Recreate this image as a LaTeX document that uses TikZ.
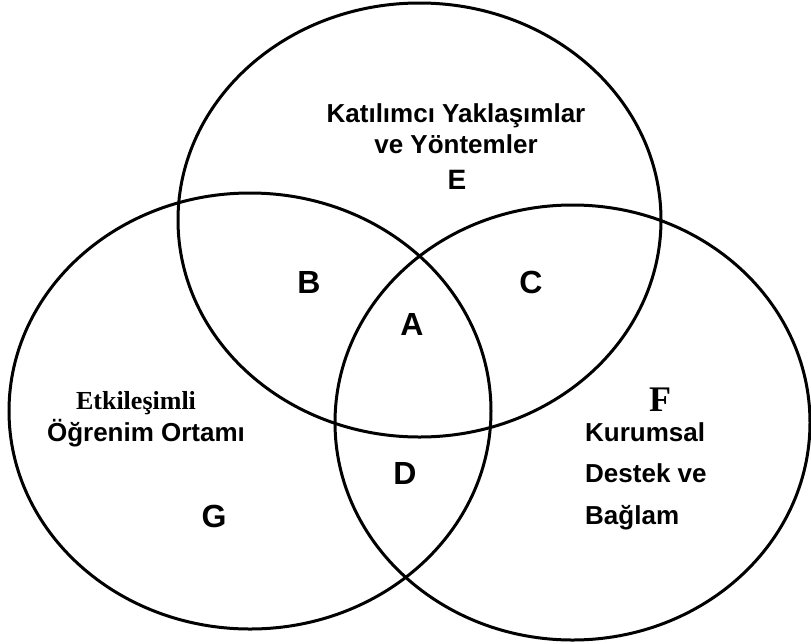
\documentclass[tikz,border=0pt]{standalone}
\usepackage{fontspec}
\setmainfont{Liberation Sans}
\newfontfamily\serifbold{Liberation Serif}
\usetikzlibrary{positioning}

\begin{document}
\begin{tikzpicture}[
  x=1pt, y=-1pt,
  every node/.style={inner sep=0pt, anchor=base},
  ring/.style={line width=3pt},
  tag/.style={font=\fontsize{32}{32}\selectfont\bfseries},
  words/.style={font=\fontsize{26}{26}\selectfont\bfseries},
  serifwords/.style={font=\serifbold\fontsize{26}{26}\selectfont\bfseries}
]
\useasboundingbox (0,0) rectangle (811,643);

% three sets
\draw[ring] (419.5,220) ellipse [x radius=241.5, y radius=217];
\draw[ring] (250,411) ellipse [x radius=241, y radius=218];
\draw[ring] (572.5,422.5) ellipse [x radius=237.5, y radius=217.5];

% top set
\node[words] (katilimci) at (456,122) {Katılımcı Yaklaşımlar};
\node[words] (yontem) at (456,153) {ve Yöntemler};
\node[words, font=\fontsize{28}{28}\selectfont\bfseries] (regE) at (457,189) {E};

% overlaps
\node[tag] (regB) at (309,293) {B};
\node[tag] (regC) at (531,293) {C};
\node[tag] (regA) at (412,335) {A};
\node[tag] (regD) at (405,484) {D};

% left set
\node[serifwords] (etkilesim) at (136,409) {Etkileşimli};
\node[words] (ogrenim) at (146,441) {Öğrenim Ortamı};
\node[tag] (regG) at (214,527) {G};

% right set
\node[serifwords, font=\serifbold\fontsize{36}{36}\selectfont\bfseries] (regF) at (660,411) {F};
\node[words, anchor=base west] (kurumsal) at (585,441) {Kurumsal};
\node[words, anchor=base west] (destek) at (585,482) {Destek ve};
\node[words, anchor=base west] (baglam) at (585,524) {Bağlam};
\end{tikzpicture}
\end{document}
